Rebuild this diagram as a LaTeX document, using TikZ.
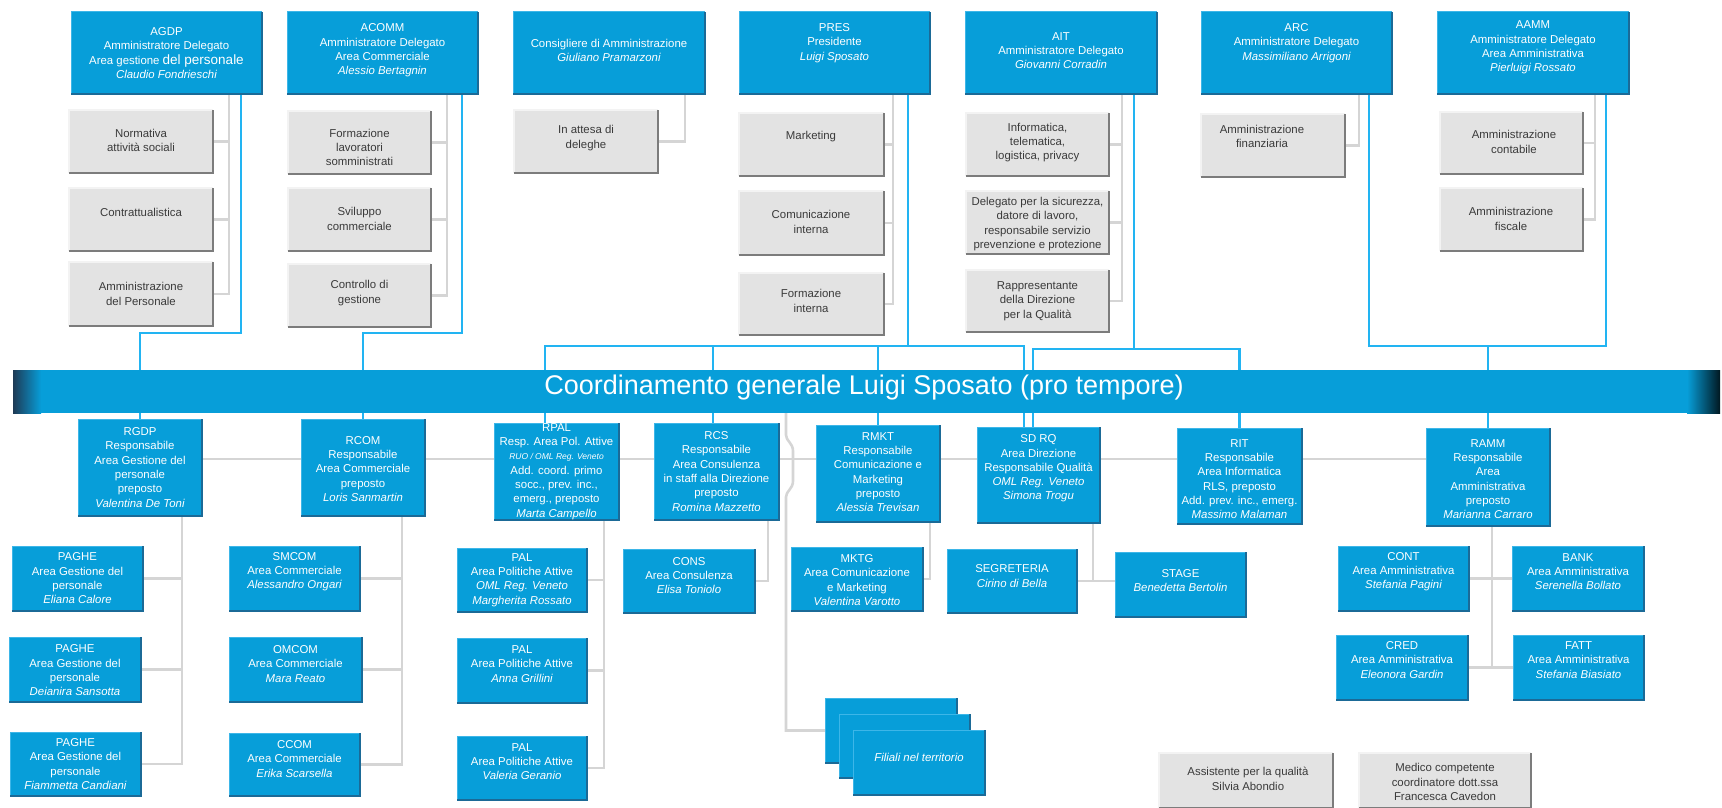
\documentclass[tikz,border=0pt]{standalone}
\usepackage{fontspec}
\setmainfont{Liberation Sans}
\usetikzlibrary{fit}
\pgfdeclarelayer{bg}
\pgfsetlayers{bg,main}
\definecolor{boxblue}{HTML}{079ED9}
\definecolor{bluedark}{HTML}{1B6A97}
\definecolor{bluelight}{HTML}{3DB6E8}
\definecolor{lineblue}{HTML}{22B4F2}
\definecolor{linegrey}{HTML}{D5D5D5}
\definecolor{greyfill}{HTML}{E3E3E3}
\definecolor{greydark}{HTML}{7C7C7C}
\definecolor{greylight}{HTML}{F3F3F3}
\definecolor{greytext}{HTML}{3A3A3A}
\definecolor{bardark}{HTML}{1E3A55}
\tikzset{
  bbox/.style={inner sep=0pt, outer sep=0pt, fill=boxblue, draw=none},
  gbox/.style={inner sep=0pt, outer sep=0pt, fill=greyfill, draw=none},
  btxt/.style={align=center, text=white, inner sep=0pt, font=\fontsize{11.4}{14.3}\selectfont},
  gtxt/.style={align=center, text=greytext, inner sep=0pt, font=\fontsize{11.4}{14.3}\selectfont},
  bline/.style={draw=lineblue, line width=2.4pt},
  gline/.style={draw=linegrey, line width=2.6pt},
}
\newcommand{\nm}[1]{{\itshape #1}}
\newcommand{\BBox}[7]{%
  \node[bbox, fit={(#2,#3) (#4,#5)}] (#1) {};
  \draw[bluelight, line width=1pt] (#1.south west) -- (#1.north west) -- (#1.north east);
  \draw[bluedark, line width=1.6pt] (#1.south west) -- (#1.south east) -- (#1.north east);
  \node[btxt] (#1-t) at ({(#2+#4)/2},#6) {#7};
}
\newcommand{\GBox}[8]{%
  \node[gbox, fit={(#2,#3) (#4,#5)}] (#1) {};
  \draw[greylight, line width=1.2pt] (#1.south west) -- (#1.north west) -- (#1.north east);
  \draw[greydark, line width=1.8pt] (#1.south west) -- (#1.south east) -- (#1.north east);
  \node[gtxt] (#1-t) at (#6,#7) {#8};
}
\begin{document}
\begin{tikzpicture}[x=1pt, y=-1pt]
\useasboundingbox (0,0) rectangle (1722,808);

% ---------- top row ----------
\BBox{agdp}{71}{12}{262}{94}{53}{AGDP\\Amministratore Delegato\\Area gestione {\fontsize{13.5}{14.3}\selectfont del personale}\\\nm{Claudio Fondrieschi}}
\BBox{acomm}{287}{12}{478}{94}{50.5}{ACOMM\\Amministratore Delegato\\Area Commerciale\\\nm{Alessio Bertagnin}}
\BBox{cons}{513}{12}{705}{94}{50.5}{Consigliere di Amministrazione\\\nm{Giuliano Pramarzoni}}
\BBox{pres}{739}{12}{930}{94}{43}{PRES\\Presidente\\\nm{Luigi Sposato}}
\BBox{ait}{965}{12}{1157}{94}{50.5}{AIT\\Amministratore Delegato\\\nm{Giovanni Corradin}}
\BBox{arc}{1201}{12}{1392}{94}{43}{ARC\\Amministratore Delegato\\\nm{Massimiliano Arrigoni}}
\BBox{aamm}{1437}{12}{1629}{94}{47.5}{AAMM\\Amministratore Delegato\\Area Amministrativa\\\nm{Pierluigi Rossato}}

% ---------- grey delegations ----------
\GBox{g1a}{69}{110}{213}{173}{141}{140.5}{Normativa\\attività sociali}
\GBox{g1b}{69}{188}{213}{251}{141}{212}{Contrattualistica}
\GBox{g1c}{69}{262}{213}{326}{141}{294}{Amministrazione\\del Personale}
\GBox{g2a}{288}{111}{431}{174}{359.5}{147.5}{Formazione\\lavoratori\\somministrati}
\GBox{g2b}{288}{188}{431}{251}{359.5}{219}{Sviluppo\\commerciale}
\GBox{g2c}{288}{264}{431}{327}{359.5}{293}{Controllo di\\gestione}
\GBox{g3a}{514}{110}{658}{173}{586}{138}{In attesa di\\deleghe}
\GBox{g4a}{739}{113}{884}{176}{811}{137}{Marketing}
\GBox{g4b}{739}{191}{884}{255}{811}{222}{Comunicazione\\interna}
\GBox{g4c}{739}{273}{884}{335}{811}{301}{Formazione\\interna}
\GBox{g5a}{966}{113}{1109}{176}{1037.5}{142.5}{Informatica,\\telematica,\\logistica, privacy}
\GBox{g5b}{966}{191}{1109}{254}{1037.5}{224}{Delegato per la sicurezza,\\datore di lavoro,\\responsabile servizio\\prevenzione e protezione}
\GBox{g5c}{966}{270}{1109}{332}{1037.5}{301}{Rappresentante\\della Direzione\\per la Qualità}
\GBox{g6a}{1201}{114}{1345}{177}{1262}{136.5}{Amministrazione\\finanziaria}
\GBox{g7a}{1440}{112}{1583}{174}{1514}{142}{Amministrazione\\contabile}
\GBox{g7b}{1440}{188}{1583}{251}{1511}{219}{Amministrazione\\fiscale}

% ---------- coordination bar ----------
\node[inner sep=0pt, outer sep=0pt, fill=boxblue, fit={(13,370) (1720,413)}] (bar) {};
\shade[left color=bardark, right color=boxblue] (bar.north west) rectangle ([xshift=28pt]bar.south west);
\shade[left color=boxblue, right color=black!85!boxblue] ([xshift=-33pt]bar.north east) rectangle (bar.south east);
\node[inner sep=0pt, text=white, font=\fontsize{27}{30}\selectfont] (bar-t) at (864,388) {Coordinamento generale Luigi Sposato (pro tempore)};

% ---------- second row ----------
\BBox{rgdp}{78}{419}{202}{516}{467.5}{RGDP\\Responsabile\\Area Gestione del\\personale\\preposto\\\nm{Valentina De Toni}}
\BBox{rcom}{301}{419}{425}{516}{469}{RCOM\\Responsabile\\Area Commerciale\\preposto\\\nm{Loris Sanmartin}}
\BBox{rpal}{494}{423}{619}{520}{471.5}{RPAL\\Resp. Area Pol. Attive\\{\fontsize{8.5}{12}\selectfont\itshape RUO / OML Reg. Veneto}\\Add. coord. primo\\socc., prev. inc.,\\emerg., preposto\\\nm{Marta Campello}}
\BBox{rcs}{654}{423}{779}{520}{471.5}{RCS\\Responsabile\\Area Consulenza\\in staff alla Direzione\\preposto\\\nm{Romina Mazzetto}}
\BBox{rmkt}{816}{425}{940}{522}{472}{RMKT\\Responsabile\\Comunicazione e\\Marketing\\preposto\\\nm{Alessia Trevisan}}
\BBox{sdrq}{977}{427}{1100}{523}{468.5}{SD RQ\\Area Direzione\\Responsabile Qualità\\\nm{OML Reg. Veneto}\\\nm{Simona Trogu}}
\BBox{rit}{1177}{428}{1302}{524}{479}{RIT\\Responsabile\\Area Informatica\\RLS, preposto\\Add. prev. inc., emerg.\\\nm{Massimo Malaman}}
\BBox{ramm}{1426}{428}{1550}{526}{479}{RAMM\\Responsabile\\Area\\Amministrativa\\preposto\\\nm{Marianna Carraro}}

% ---------- third row ----------
\BBox{paghe1}{12}{546}{143}{611}{578.5}{PAGHE\\Area Gestione del\\personale\\\nm{Eliana Calore}}
\BBox{paghe2}{9}{637}{141}{702}{670.5}{PAGHE\\Area Gestione del\\personale\\\nm{Deianira Sansotta}}
\BBox{paghe3}{10}{732}{141}{796}{764}{PAGHE\\Area Gestione del\\personale\\\nm{Fiammetta Candiani}}
\BBox{smcom}{229}{546}{360}{611}{571.5}{SMCOM\\Area Commerciale\\\nm{Alessandro Ongari}}
\BBox{omcom}{229}{637}{362}{702}{664}{OMCOM\\Area Commerciale\\\nm{Mara Reato}}
\BBox{ccom}{229}{733}{360}{796}{759}{CCOM\\Area Commerciale\\\nm{Erika Scarsella}}
\BBox{pal1}{457}{548}{587}{612}{580}{PAL\\Area Politiche Attive\\\nm{OML Reg. Veneto}\\\nm{Margherita Rossato}}
\BBox{pal2}{457}{638}{587}{703}{664}{PAL\\Area Politiche Attive\\\nm{Anna Grillini}}
\BBox{pal3}{457}{736}{587}{800}{761.5}{PAL\\Area Politiche Attive\\\nm{Valeria Geranio}}
\BBox{cons2}{623}{549}{755}{613}{575.5}{CONS\\Area Consulenza\\\nm{Elisa Toniolo}}
\BBox{mktg}{791}{547}{923}{611}{580}{MKTG\\Area Comunicazione\\e Marketing\\\nm{Valentina Varotto}}
\BBox{segr}{947}{549}{1077}{613}{576}{SEGRETERIA\\\nm{Cirino di Bella}}
\BBox{stage}{1115}{552}{1246}{617}{580.5}{STAGE\\\nm{Benedetta Bertolin}}
\BBox{cont}{1338}{546}{1469}{611}{571.5}{CONT\\Area Amministrativa\\\nm{Stefania Pagini}}
\BBox{bank}{1512}{546}{1644}{611}{571.5}{BANK\\Area Amministrativa\\\nm{Serenella Bollato}}
\BBox{cred}{1336}{635}{1468}{700}{660}{CRED\\Area Amministrativa\\\nm{Eleonora Gardin}}
\BBox{fatt}{1513}{635}{1644}{700}{660}{FATT\\Area Amministrativa\\\nm{Stefania Biasiato}}

% ---------- branches ----------
\BBox{fil1}{825}{698}{957}{763}{730}{}
\BBox{fil2}{839}{714}{970}{778}{746}{}
\BBox{fil3}{853}{730}{985}{795}{757}{\nm{Filiali nel territorio}}

% ---------- staff (grey) ----------
\GBox{assist}{1159}{753}{1333}{808}{1248}{779}{Assistente per la qualità\\Silvia Abondio}
\GBox{medico}{1359}{753}{1531}{808}{1445}{782}{Medico competente\\coordinatore dott.ssa\\Francesca Cavedon}

% ---------- connectors ----------
\coordinate (ja) at (241,333);
\coordinate (jc) at (462,333);
\coordinate (jp) at (908,346);
\coordinate (jpl) at (545,346);
\coordinate (jpr) at (1024,346);
\coordinate (jrcs) at (713,346);
\coordinate (ji) at (1134,349);
\coordinate (jil) at (1033,349);
\coordinate (jr) at (1369,346);
\coordinate (jm) at (1606,346);
\coordinate (ga) at (229,0);
\coordinate (gc) at (447,0);
\coordinate (gk) at (685,0);
\coordinate (gp) at (893,0);
\coordinate (gi) at (1122,0);
\coordinate (gr) at (1359,0);
\coordinate (gm) at (1595,0);
\coordinate (rowy) at (0,459);
\coordinate (fx) at (786,0);
\coordinate (gx1) at (182,0);
\coordinate (gx2) at (402,0);
\coordinate (gx3) at (604,0);
\coordinate (gx4) at (768,0);
\coordinate (gx5) at (930,0);
\coordinate (gx6) at (1093,0);
\coordinate (gx7) at (1492,0);

\begin{pgfonlayer}{bg}
  % grey delegation links
  \draw[gline] (agdp.south -| ga) |- (g1c.east);
  \draw[gline] (g1a.east) -- (g1a.east -| ga);
  \draw[gline] (g1b.east) -- (g1b.east -| ga);
  \draw[gline] (acomm.south -| gc) |- (g2c.east);
  \draw[gline] (g2a.east) -- (g2a.east -| gc);
  \draw[gline] (g2b.east) -- (g2b.east -| gc);
  \draw[gline] (cons.south -| gk) |- (g3a.east);
  \draw[gline] (pres.south -| gp) |- (g4c.east);
  \draw[gline] (g4a.east) -- (g4a.east -| gp);
  \draw[gline] (g4b.east) -- (g4b.east -| gp);
  \draw[gline] (ait.south -| gi) |- (g5c.east);
  \draw[gline] (g5a.east) -- (g5a.east -| gi);
  \draw[gline] (g5b.east) -- (g5b.east -| gi);
  \draw[gline] (arc.south -| gr) |- (g6a.east);
  \draw[gline] (aamm.south -| gm) |- (g7b.east);
  \draw[gline] (g7a.east) -- (g7a.east -| gm);
  % grey row link
  \draw[gline] (rgdp.east |- rowy) -- (ramm.west |- rowy);
  % bar to branches (with bridge)
  \draw[gline] (bar.south -| fx) -- ++(0,22) .. controls +(0,6) and +(0,-8) .. ++(7,16) -- ++(0,30) .. controls +(0,8) and +(0,-6) .. ++(-7,16) |- (fil1.west);
  % grey third-row links
  \draw[gline] (rgdp.south -| gx1) |- (paghe3.east);
  \draw[gline] (paghe1.east) -- (paghe1.east -| gx1);
  \draw[gline] (paghe2.east) -- (paghe2.east -| gx1);
  \draw[gline] (rcom.south -| gx2) |- (ccom.east);
  \draw[gline] (smcom.east) -- (smcom.east -| gx2);
  \draw[gline] (omcom.east) -- (omcom.east -| gx2);
  \draw[gline] (rpal.south -| gx3) |- (pal3.east);
  \draw[gline] (pal1.east) -- (pal1.east -| gx3);
  \draw[gline] (pal2.east) -- (pal2.east -| gx3);
  \draw[gline] (rcs.south -| gx4) |- (cons2.east);
  \draw[gline] (rmkt.south -| gx5) |- (mktg.east);
  \draw[gline] (sdrq.south -| gx6) -- (gx6 |- segr.east);
  \draw[gline] (segr.east) -- (stage.west |- segr.east);
  \draw[gline] (ramm.south -| gx7) -- (gx7 |- cred.east);
  \draw[gline] (cont.east) -- (bank.west |- cont.east);
  \draw[gline] (cred.east) -- (fatt.west |- cred.east);
  % blue hierarchy links
  \draw[bline] (agdp.south -| ja) -- (ja) -| (rgdp.north);
  \draw[bline] (acomm.south -| jc) -- (jc) -| (rcom.north);
  \draw[bline] (pres.south -| jp) -- (jp);
  \draw[bline] (jpl |- rpal.north) -- (jpl) -- (jpr) -- (jpr |- sdrq.north);
  \draw[bline] (jrcs) -- (jrcs |- rcs.north);
  \draw[bline] (rmkt.north |- jp) -- (rmkt.north);
  \draw[bline] (ait.south -| ji) -- (ji);
  \draw[bline] (jil |- sdrq.north) -- (jil) -| (rit.north);
  \draw[bline] (arc.south -| jr) -- (jr) -- (jm) -- (aamm.south -| jm);
  \draw[bline] (ramm.north |- jr) -- (ramm.north);
\end{pgfonlayer}
\end{tikzpicture}
\end{document}
